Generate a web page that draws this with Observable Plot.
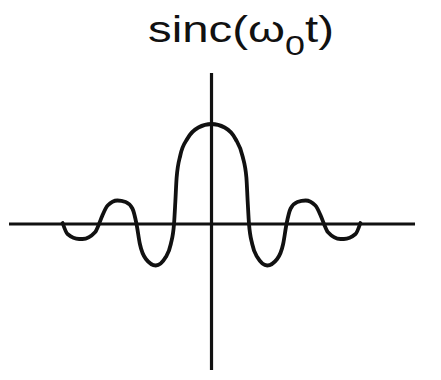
<!DOCTYPE html>
<html>
<head>
<meta charset="utf-8">
<script src="https://cdn.jsdelivr.net/npm/d3@7"></script>
<script src="https://cdn.jsdelivr.net/npm/@observablehq/plot@0.6"></script>
<style>
  html, body { margin: 0; padding: 0; background: #fff; }
  #chart { width: 441px; height: 380px; }
  svg { display: block; }
</style>
</head>
<body>
<div id="chart"></div>
<script>
// Curve: t in units of zero-crossing spacing, value relative to the peak
const tValues = [
  -3.97, -3.84, -3.53, -3.44, -3.1, -3.0, -2.91, -2.77, -2.51, -2.29, -2.11, -2.0,
  -1.91, -1.75, -1.485, -1.22, -1.085, -1.0, -0.965, -0.93, -0.83, -0.64, -0.35, 0,
  0.35, 0.64, 0.83, 0.93, 0.965, 1.0, 1.085, 1.22, 1.485, 1.75, 1.91, 2.0,
  2.11, 2.29, 2.51, 2.77, 2.91, 3.0, 3.1, 3.44, 3.53, 3.84, 3.97
];
const sincValues = [
  0.01, -0.1, -0.15, -0.15, -0.08, 0, 0.085, 0.185, 0.235, 0.22, 0.155, 0,
  -0.2, -0.35, -0.415, -0.33, -0.2, 0, 0.22, 0.465, 0.69, 0.855, 0.965, 1.0,
  0.965, 0.85, 0.675, 0.465, 0.22, 0, -0.2, -0.33, -0.415, -0.35, -0.2, 0,
  0.155, 0.22, 0.235, 0.185, 0.085, 0, -0.08, -0.15, -0.15, -0.1, 0.01
];
// Axis extents (data units)
const xAxisExtent = [-5.387, 5.44];
const yAxisExtent = [-1.465, 1.505];
const titleMain = "sinc(ω";
const titleSub = "0";
const titleEnd = "t)";

const data = tValues.map((t, i) => ({t, v: sincValues[i]}));

const chart = document.getElementById("chart");

// Title (above the plot SVG)
const ns = "http://www.w3.org/2000/svg";
const tsvg = document.createElementNS(ns, "svg");
tsvg.setAttribute("width", 441);
tsvg.setAttribute("height", 60);
const g = document.createElementNS(ns, "g");
g.setAttribute("transform", "translate(241,42) scale(1.28,1)");
const txt = document.createElementNS(ns, "text");
txt.setAttribute("text-anchor", "middle");
txt.setAttribute("font-family", "Liberation Sans, Arial, sans-serif");
txt.setAttribute("font-size", "37");
txt.setAttribute("fill", "#111");
const s1 = document.createElementNS(ns, "tspan"); s1.textContent = titleMain;
const s2 = document.createElementNS(ns, "tspan"); s2.textContent = titleSub;
s2.setAttribute("font-size", "28"); s2.setAttribute("dy", "13");
const s3 = document.createElementNS(ns, "tspan"); s3.textContent = titleEnd;
s3.setAttribute("dy", "-13");
txt.append(s1, s2, s3);
g.append(txt);
tsvg.append(g);
chart.append(tsvg);

const plot = Plot.plot({
  width: 441,
  height: 320,
  margin: 0,
  style: {background: "#fff"},
  x: {domain: [-5.627, 6.133], axis: null},
  y: {domain: [-1.565, 1.635], axis: null},
  marks: [
    Plot.ruleY([0], {x1: xAxisExtent[0], x2: xAxisExtent[1], stroke: "#111", strokeWidth: 3}),
    Plot.ruleX([0], {y1: yAxisExtent[0], y2: yAxisExtent[1], stroke: "#111", strokeWidth: 3.2}),
    Plot.line(data, {x: "t", y: "v", curve: "monotone-x", stroke: "#111", strokeWidth: 3.8, strokeLinejoin: "round", strokeLinecap: "round"})
  ]
});
chart.append(plot);
</script>
</body>
</html>
